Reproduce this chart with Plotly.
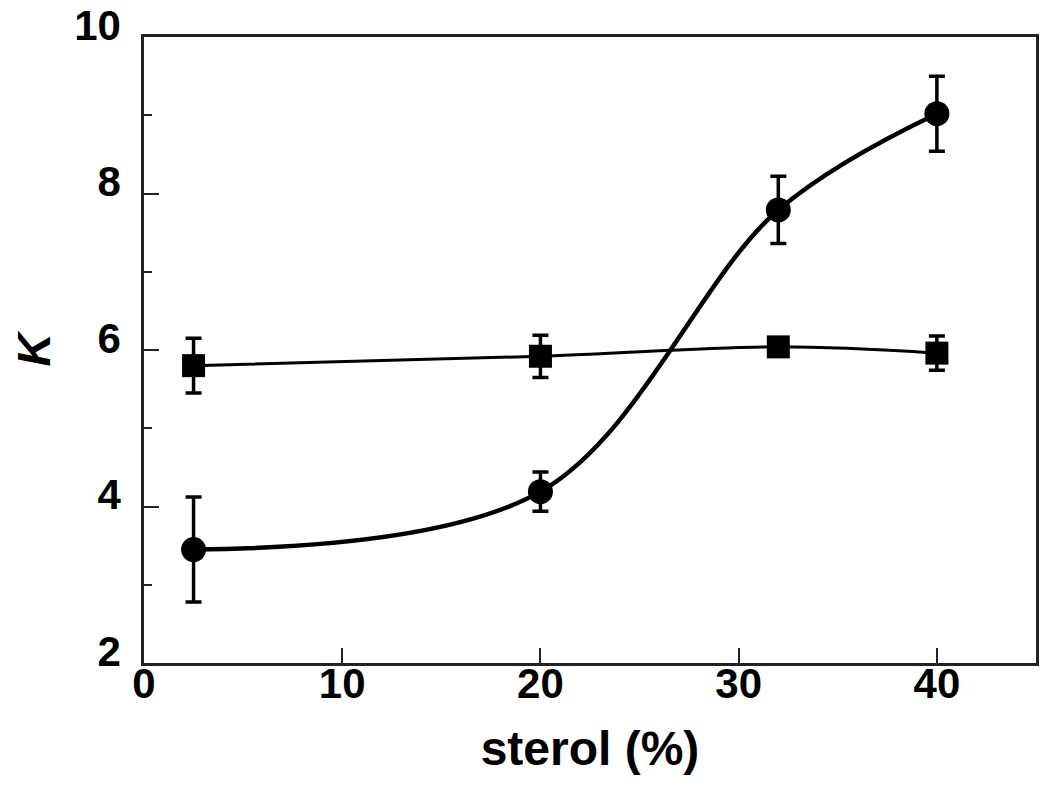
import plotly.graph_objects as go

# Data
sterol = [2.5, 20, 32, 40]
k_circle = [3.45, 4.19, 7.79, 9.02]
k_circle_err = [0.67, 0.25, 0.43, 0.48]
k_square = [5.80, 5.92, 6.04, 5.96]
k_square_err = [0.35, 0.27, 0.05, 0.22]

x_ticks = [0, 10, 20, 30, 40]
y_ticks = [2, 4, 6, 8, 10]

font_family = "Liberation Sans, Arial, sans-serif"

fig = go.Figure()

fig.add_trace(go.Scatter(
    x=sterol, y=k_square, mode="lines+markers",
    line=dict(color="black", width=3, shape="spline", smoothing=1.0),
    marker=dict(symbol="square", size=23, color="black"),
    error_y=dict(type="data", array=k_square_err, color="black", thickness=3.5, width=8),
    showlegend=False,
))

fig.add_trace(go.Scatter(
    x=sterol, y=k_circle, mode="lines+markers",
    line=dict(color="black", width=4.5, shape="spline", smoothing=1.0),
    marker=dict(symbol="circle", size=25, color="black"),
    error_y=dict(type="data", array=k_circle_err, color="black", thickness=3.5, width=8),
    showlegend=False,
))

fig.update_layout(
    width=1050, height=794,
    margin=dict(l=136, r=22, t=29, b=139, autoexpand=False),
    paper_bgcolor="white", plot_bgcolor="white",
    font=dict(family=font_family, color="black"),
)

fig.update_xaxes(
    range=[0, 45], tickvals=x_ticks, ticktext=[str(v) for v in x_ticks],
    ticks="inside", ticklen=15, tickwidth=2, tickcolor="#222",
    showline=True, linecolor="#222", linewidth=2.5, mirror=True,
    showgrid=False, zeroline=False,
    tickfont=dict(size=42, family=font_family, weight="bold"),
    ticklabelstandoff=-18,
    title=dict(text="sterol (%)", font=dict(size=48, family=font_family, weight="bold"), standoff=26),
)

fig.update_yaxes(
    range=[2, 10], tickvals=y_ticks, ticktext=[str(v) for v in y_ticks],
    ticks="inside", ticklen=15, tickwidth=2, tickcolor="#222",
    minor=dict(dtick=1, tick0=1, ticks="inside", ticklen=8, tickwidth=2, tickcolor="#222"),
    showline=True, linecolor="#222", linewidth=2.5, mirror=True,
    showgrid=False, zeroline=False,
    tickfont=dict(size=42, family=font_family, weight="bold"),
    ticklabelstandoff=12,
    ticklabelshift=-12,
    ticklabeloverflow="allow",
    title=dict(text="<i>K</i>", font=dict(size=46, family=font_family, weight="bold"), standoff=54),
)

fig.write_html("out.html")
